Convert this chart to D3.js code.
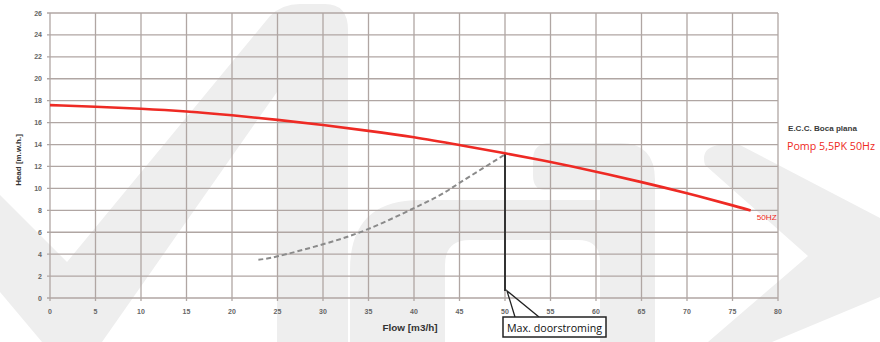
<!DOCTYPE html>
<html>
<head>
<meta charset="utf-8">
<script src="https://cdn.jsdelivr.net/npm/d3@7"></script>
<style>
  html, body { margin: 0; padding: 0; background: #ffffff; }
  svg { display: block; }
</style>
</head>
<body>
<svg id="chart" width="880" height="342"></svg>
<script>
// ---- data ----
const xTicks = [0,5,10,15,20,25,30,35,40,45,50,55,60,65,70,75,80];
const yTicks = [0,2,4,6,8,10,12,14,16,18,20,22,24,26];

const pumpFlow = [0,5,10,15,20,25,30,35,40,45,50,55,60,65,70,75,77];
const pumpHead = [17.6,17.45,17.27,17.02,16.67,16.25,15.78,15.25,14.66,13.95,13.2,12.4,11.52,10.57,9.55,8.45,7.98];

const sysFlow = [22.9,25,30,35,40,42.9,45,47.5,50];
const sysHead = [3.5,3.8,4.9,6.3,8.2,9.4,10.5,11.8,13.1];

const maxFlow = 50;
const maxFlowHead = 13.2;
const maxFlowBottom = 0.65;

const xTitle = "Flow [m3/h]";
const yTitle = "Head [m.w.h.]";
const curveLabel = "50HZ";
const legendTitle = "E.C.C. Boca plana";
const legendSeries = "Pomp 5,5PK 50Hz";
const calloutText = "Max. doorstroming";

// ---- drawing ----
const svg = d3.select("#chart");
const x = d3.scaleLinear().domain([0, 80]).range([50, 778]);
const y = d3.scaleLinear().domain([0, 26]).range([298, 13]);

// watermark (background logo shapes)
const wm = svg.append("g").attr("fill", "#eeeeee").attr("stroke", "none");
wm.append("path").attr("d",
  "M0,195 L67,262 L270,16 Q282,4 300,4 L325,4 Q348,4 348,30 L348,342 L277,342 L277,92 L102,342 L42,342 L0,292 Z");
wm.append("path").attr("d",
  "M350,342 L350,270 Q350,200 420,200 L600,200 L600,190 L545,190 Q533,190 533,175 L533,160 Q533,143 550,143 L620,143 Q655,143 655,180 L655,342 L600,342 L600,262 Q600,240 578,240 L470,240 Q445,240 445,265 L445,342 Z");
wm.append("path").attr("d",
  "M705,165 Q700,147 720,145 L738,144 L880,218 L880,297 L772,342 L708,342 L808,256 Z");

// grid
const grid = svg.append("g").attr("stroke", "#b0a6a3").attr("stroke-width", 1.3).attr("fill", "none");
grid.selectAll("line.h").data(yTicks).join("line")
  .attr("x1", x(0) - 3).attr("x2", x(80))
  .attr("y1", d => y(d)).attr("y2", d => y(d));
grid.selectAll("line.v").data(xTicks).join("line")
  .attr("x1", d => x(d)).attr("x2", d => x(d))
  .attr("y1", y(26)).attr("y2", y(0) + 3);

// tick labels
svg.append("g").selectAll("text").data(yTicks).join("text")
  .attr("x", 42).attr("y", d => y(d) + 2.5)
  .attr("text-anchor", "end")
  .attr("font-family", "Liberation Sans, Arial, sans-serif")
  .attr("font-size", 7).attr("font-weight", "bold").attr("fill", "#666")
  .text(d => d);
svg.append("g").selectAll("text").data(xTicks).join("text")
  .attr("x", d => x(d)).attr("y", 314)
  .attr("text-anchor", "middle")
  .attr("font-family", "Liberation Sans, Arial, sans-serif")
  .attr("font-size", 7).attr("font-weight", "bold").attr("fill", "#666")
  .text(d => d);

// axis titles
svg.append("text")
  .attr("transform", "translate(21,160) rotate(-90)")
  .attr("text-anchor", "middle")
  .attr("font-family", "Liberation Sans, Arial, sans-serif")
  .attr("font-size", 8).attr("font-weight", "bold").attr("fill", "#333")
  .text(yTitle);
svg.append("text")
  .attr("x", 410).attr("y", 331)
  .attr("text-anchor", "middle")
  .attr("font-family", "Liberation Sans, Arial, sans-serif")
  .attr("font-size", 8.5).attr("font-weight", "bold").attr("fill", "#333")
  .attr("textLength", 55).attr("lengthAdjust", "spacingAndGlyphs")
  .text(xTitle);

// system curve (dashed)
const sysData = sysFlow.map((f, i) => [f, sysHead[i]]);
svg.append("path").datum(sysData)
  .attr("fill", "none").attr("stroke", "#8a8a8a").attr("stroke-width", 2)
  .attr("stroke-dasharray", "5,3")
  .attr("d", d3.line().x(d => x(d[0])).y(d => y(d[1])).curve(d3.curveNatural));

// max flow vertical line
svg.append("line")
  .attr("x1", x(maxFlow)).attr("x2", x(maxFlow))
  .attr("y1", y(maxFlowHead)).attr("y2", y(maxFlowBottom))
  .attr("stroke", "#333").attr("stroke-width", 2);

// pump curve
const pumpData = pumpFlow.map((f, i) => [f, pumpHead[i]]);
svg.append("path").datum(pumpData)
  .attr("fill", "none").attr("stroke", "#ee2a24").attr("stroke-width", 2.6)
  .attr("d", d3.line().x(d => x(d[0])).y(d => y(d[1])).curve(d3.curveNatural));

// curve label
svg.append("text")
  .attr("x", x(77) + 6).attr("y", y(7.98) + 9)
  .attr("font-family", "Liberation Sans, Arial, sans-serif")
  .attr("font-size", 7.5).attr("fill", "#ee2a24")
  .attr("textLength", 20).attr("lengthAdjust", "spacingAndGlyphs")
  .text(curveLabel);

// legend text
svg.append("text")
  .attr("x", 788).attr("y", 131)
  .attr("font-family", "Liberation Sans, Arial, sans-serif")
  .attr("font-size", 7.5).attr("font-weight", "bold").attr("fill", "#3a3a3a")
  .attr("textLength", 69).attr("lengthAdjust", "spacingAndGlyphs")
  .text(legendTitle);
svg.append("text")
  .attr("x", 787).attr("y", 149.5)
  .attr("font-family", "Open Sans, Liberation Sans, sans-serif")
  .attr("font-size", 11).attr("fill", "#ee2a24")
  .attr("textLength", 88).attr("lengthAdjust", "spacingAndGlyphs")
  .text(legendSeries);

// callout
const tipX = x(maxFlow) + 2, tipY = y(maxFlowBottom);
svg.append("path")
  .attr("d", `M${tipX + 8},317 L${tipX},${tipY} L${tipX + 32},317`)
  .attr("fill", "none").attr("stroke", "#222").attr("stroke-width", 1.3);
svg.append("rect")
  .attr("x", 503).attr("y", 317).attr("width", 103).attr("height", 20)
  .attr("fill", "#fff").attr("stroke", "#222").attr("stroke-width", 1.5);
svg.append("text")
  .attr("x", 507).attr("y", 331.5)
  .attr("font-family", "Open Sans, Liberation Sans, sans-serif")
  .attr("font-size", 11.5).attr("fill", "#111")
  .attr("textLength", 95).attr("lengthAdjust", "spacingAndGlyphs")
  .text(calloutText);
</script>
</body>
</html>
